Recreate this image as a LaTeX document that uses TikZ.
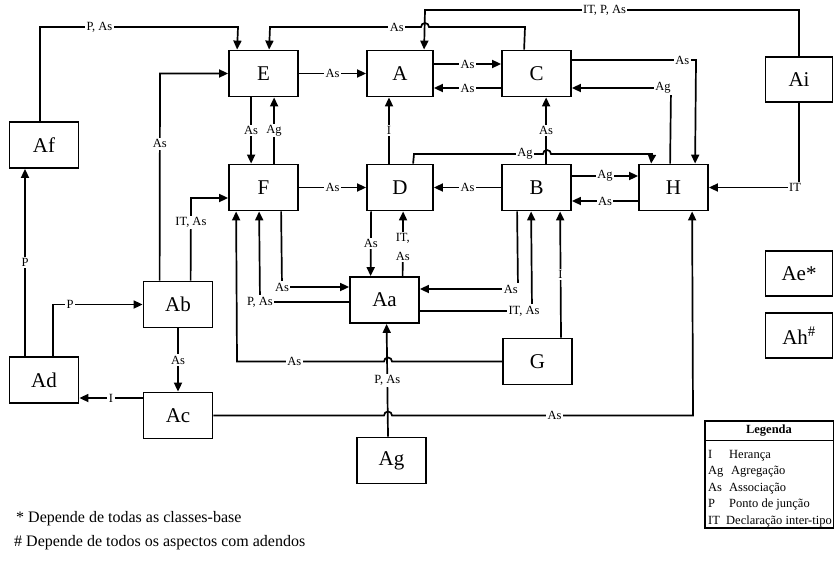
\documentclass[tikz,border=0pt]{standalone}
\usepackage{fontspec}
\setmainfont{Liberation Serif}
\usetikzlibrary{arrows.meta}
\begin{document}
\begin{tikzpicture}[x=1pt,y=-1pt,
  box/.style={draw,line width=1.8pt,minimum width=69pt,minimum height=46pt,inner sep=0pt,font=\fontsize{21}{21}\selectfont},
  conn/.style={line width=1.7pt,-{Triangle[length=9pt,width=8pt]}},
  lbl/.style={fill=white,inner sep=1.5pt,font=\fontsize{12.5}{14}\selectfont},
  legtxt/.style={anchor=base west,inner sep=0pt,font=\fontsize{12.5}{12.5}\selectfont},
  foot/.style={anchor=base west,inner sep=0pt,font=\fontsize{16}{16}\selectfont}]
\useasboundingbox (0,0) rectangle (834,562);
% boxes
\node[box] (E) at (263.5,73.5) {E};
\node[box,minimum width=66pt] (A) at (400,73.5) {A};
\node[box] (C) at (536.5,73.5) {C};
\node[box,minimum width=67pt,minimum height=45pt] (Ai) at (799,79.5) {Ai};
\node[box] (Af) at (44,145) {Af};
\node[box] (F) at (263.5,187.5) {F};
\node[box,minimum width=66pt] (D) at (400,187.5) {D};
\node[box] (B) at (536.5,187.5) {B};
\node[box] (H) at (673.5,187.5) {H};
\node[box,minimum width=67pt,minimum height=45pt] (Ae) at (799,273.5) {Ae*};
\node[box,minimum width=67pt,minimum height=45pt] (Ah) at (799,335.5) {Ah\textsuperscript{\#}};
\node[box] (Ab) at (178,304.5) {Ab};
\node[box] (Aa) at (384.5,300) {Aa};
\node[box] (G) at (537.5,361.5) {G};
\node[box] (Ad) at (44,380) {Ad};
\node[box] (Ac) at (178,415.5) {Ac};
\node[box] (Ag) at (391.5,460.5) {Ag};
% connectors
\draw[conn] ([xshift=-4pt]Af.north) -- (40,27) -- node[lbl,pos=0.3]{P, As} (238,27) -- ([xshift=9pt]E.north west);
\draw[conn] ([xshift=23pt]C.north west) -- (525,27) -- (429,27) arc[start angle=0,end angle=180,radius=4pt] -- node[lbl,pos=0.16]{As} (270,27) -- ([xshift=41pt]E.north west);
\draw[conn] (Ai.north) -- (799,10) -- node[lbl,pos=0.52]{IT, P, As} (425,10) -- ([xshift=58pt]A.north west);
\draw[conn] (E.east) -- node[lbl]{As} (A.west);
\draw[conn] ([yshift=9.5pt]A.east) -- node[lbl]{As} ([yshift=9.5pt]C.west);
\draw[conn] ([yshift=-14.5pt]C.west) -- node[lbl]{As} ([yshift=-14.5pt]A.east);
\draw[conn] ([yshift=13.5pt]C.east) -- node[lbl,pos=0.89]{As} (696,60) -- ([xshift=57pt]H.north west);
\draw[conn] ([xshift=32pt]H.north west) -- (671,88) node[lbl,anchor=east,xshift=2pt]{Ag} -- ([yshift=-14.5pt]C.east);
\draw[conn] ([xshift=23pt]E.south west) -- node[lbl]{As} ([xshift=23pt]F.north west);
\draw[conn] ([xshift=46pt]F.north west) -- node[lbl]{Ag} ([xshift=46pt]E.south west);
\draw[conn] ([xshift=-11pt]D.north) -- node[lbl]{I} ([xshift=-11pt]A.south);
\draw[conn] ([xshift=45pt]B.north west) -- node[lbl]{As} ([xshift=45pt]C.south west);
\draw[conn] ([xshift=47pt]D.north west) -- (414,154) -- node[lbl,pos=0.86]{Ag} (543,154) arc[start angle=180,end angle=0,radius=4pt] -- (652,154) -- ([xshift=13pt]H.north west);
\draw[conn] (F.east) -- node[lbl]{As} (D.west);
\draw[conn] (B.west) -- node[lbl]{As} (D.east);
\draw[conn] ([yshift=11.5pt]B.east) -- node[lbl]{Ag} ([yshift=11.5pt]H.west);
\draw[conn] ([yshift=-13.5pt]H.west) -- node[lbl]{As} ([yshift=-13.5pt]B.east);
\draw[conn] (Ai.south) -- (799,187.5) node[lbl,xshift=-4pt]{IT} -- (H.east);
\draw[conn] ([xshift=17pt]Ab.north west) -- node[lbl,pos=0.66]{As} (160,73.5) -- (E.west);
\draw[conn] ([xshift=48pt]Ab.north west) -- node[lbl,pos=0.7]{IT, As} (191,198) -- ([yshift=-10.5pt]F.west);
\draw[conn] ([xshift=53pt]F.south west) -- (282,287) node[lbl]{As} -- ([yshift=13pt]Aa.west);
\draw[conn] ([yshift=-2pt]Aa.west) -- (260,302) node[lbl]{P, As} -- ([xshift=31pt]F.south west);
\draw[conn] ([xshift=5pt]D.south west) -- node[lbl]{As} ([xshift=21.5pt]Aa.north west);
\draw[conn] ([xshift=53.5pt]Aa.north west) -- node[lbl,align=center,pos=0.45,font=\fontsize{12.5}{19}\selectfont]{IT,\\As} ([xshift=37pt]D.south west);
\draw[conn] ([xshift=16pt]B.south west) -- (518,289) node[lbl,anchor=east,xshift=2pt]{As} -- ([yshift=11pt]Aa.east);
\draw[conn] ([yshift=-11pt]Aa.east) -- (532,311) node[lbl,xshift=-8pt]{IT, As} -- ([xshift=30pt]B.south west);
\draw[conn] ([xshift=23.5pt]G.north) -- node[lbl]{I} ([xshift=59pt]B.south west);
\draw[conn] (G.west) -- (392,361.5) arc[start angle=0,end angle=180,radius=4pt] -- node[lbl,pos=0.61]{As} (237,361.5) -- ([xshift=8pt]F.south west);
\draw[conn] ([xshift=-3.5pt]Ag.north) -- node[lbl]{P, As} ([xshift=37.5pt]Aa.south west);
\draw[conn] (Ac.east) -- (384,415.5) arc[start angle=180,end angle=0,radius=4pt] -- node[lbl,pos=0.54]{As} (693,415.5) -- ([xshift=54pt]H.south west);
\draw[conn] (Ab.south) -- node[lbl]{As} (Ac.north);
\draw[conn] ([yshift=17.5pt]Ac.west) -- node[lbl]{I} ([yshift=-18pt]Ad.east);
\draw[conn] ([xshift=9pt]Ad.north) -- (53,304.5) -- node[lbl,pos=0.19]{P} (Ab.west);
\draw[conn] ([xshift=-19pt]Ad.north) -- node[lbl]{P} ([xshift=-19pt]Af.south);
% legend
\draw[line width=1.2pt] (705,421) rectangle (833.4,528);
\draw[line width=1pt] (705,440) -- (833.4,440);
\node[font=\bfseries\fontsize{12.5}{12.5}\selectfont,inner sep=0pt] (legT) at (769,431) {Legenda};
\node[legtxt] (k1) at (708,458) {I};
\node[legtxt] (v1) at (729,458) {Herança};
\node[legtxt] (k2) at (708,474) {Ag};
\node[legtxt] (v2) at (731,474) {Agregação};
\node[legtxt] (k3) at (708,491) {As};
\node[legtxt] (v3) at (729,491) {Associação};
\node[legtxt] (k4) at (708,507) {P};
\node[legtxt] (v4) at (729,507) {Ponto de junção};
\node[legtxt] (k5) at (708,524) {IT};
\node[legtxt] (v5) at (726,524) {Declaração inter-tipo};
% notes
\node[foot] (n1) at (16,522) {* Depende de todas as classes-base};
\node[foot] (n2) at (14,546) {\# Depende de todos os aspectos com adendos};
\end{tikzpicture}
\end{document}
